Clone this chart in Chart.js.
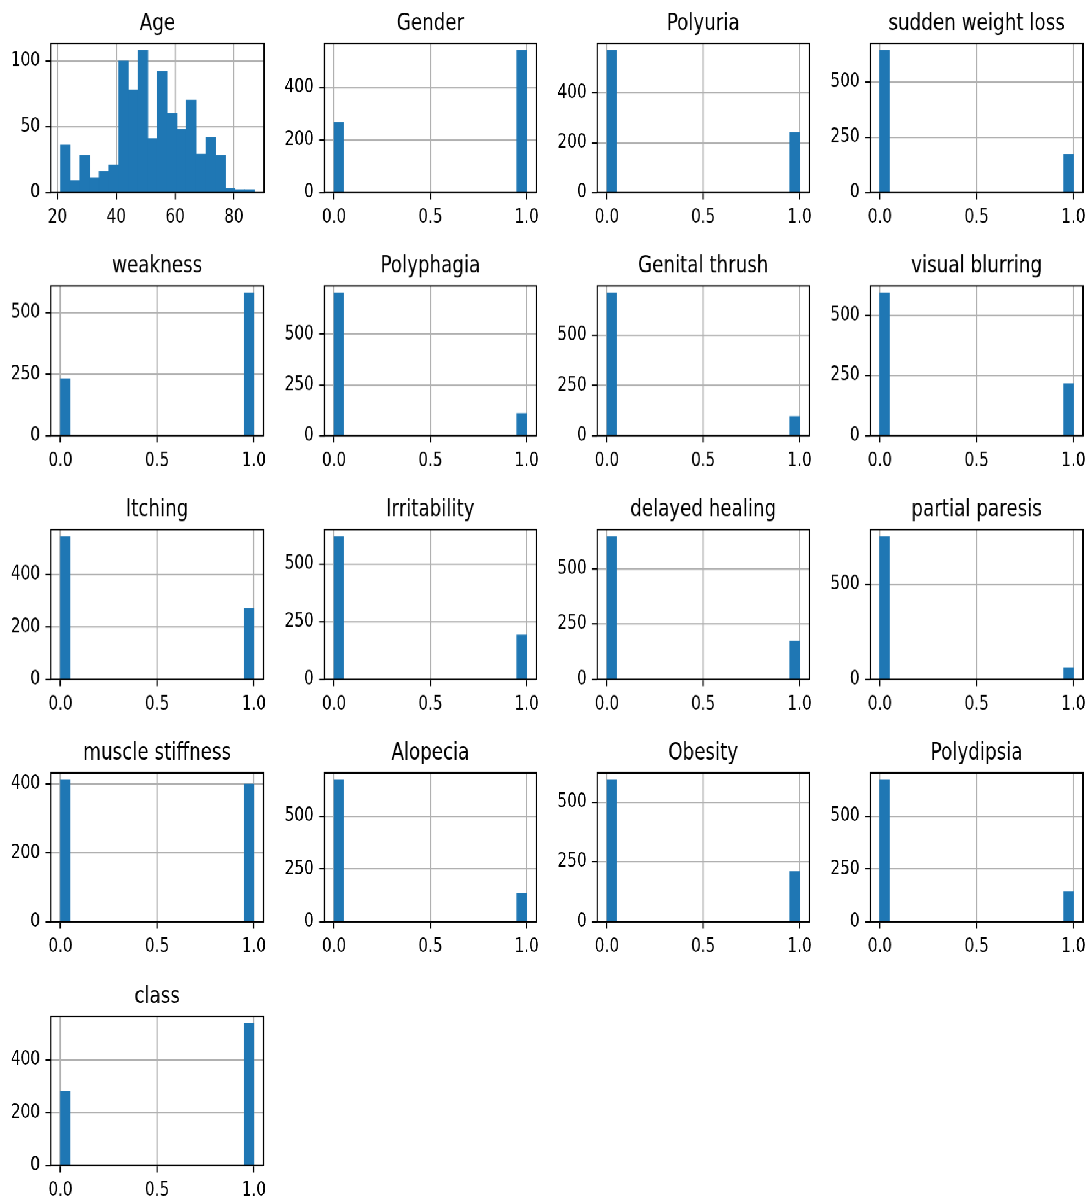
<!DOCTYPE html>
<html>
<head>
<meta charset="utf-8">
<script src="https://cdn.jsdelivr.net/npm/chart.js@4.4.1/dist/chart.umd.min.js"></script>
<style>
  html, body { margin: 0; padding: 0; background: #fff; }
  #fig { position: absolute; left: 0; top: 0; transform-origin: 0 0; }
  .panel { position: absolute; }
</style>
</head>
<body>
<div id="fig"></div>
<script>
// --- data ---
const ageBinRange = [21, 87];
const ageCounts = [36, 9, 28, 11, 16, 21, 100, 78, 108, 41, 92, 60, 48, 70, 29, 42, 28, 3, 2, 2];
const ageXTicks = [20, 40, 60, 80];
const ageYStep = 50;

const binaryFeatures = ['Gender', 'Polyuria', 'sudden weight loss', 'weakness', 'Polyphagia',
  'Genital thrush', 'visual blurring', 'Itching', 'Irritability', 'delayed healing',
  'partial paresis', 'muscle stiffness', 'Alopecia', 'Obesity', 'Polydipsia', 'class'];
const countsAtZero = [268, 570, 643, 231, 702, 711, 592, 544, 618, 645, 751, 412, 671, 592, 671, 279];
const countsAtOne  = [542, 240, 172, 580, 109, 96, 216, 270, 192, 173, 60, 399, 134, 210, 142, 537];
const binaryYSteps = [200, 200, 250, 250, 250, 250, 250, 200, 250, 250, 500, 200, 250, 250, 250, 200];
const binaryXTicks = [0, 0.5, 1];
const binaryBinRange = [0, 1];
const nBins = 20;

// --- figure geometry (the reference is a stretched matplotlib figure) ---
const SX = 1.1, SY = 1.4;
const FIG_W = 1090, FIG_H = 1203;
const frameLeft0 = 51, framePitchX = 273, frameW = 213;
const frameTop0 = 43, framePitchY = 243.25, frameH = 149;
const PAD_L = 46, PAD_T = 30, PAD_R = 7, PAD_B = 31;

Chart.defaults.font.family = '"DejaVu Sans", sans-serif';
Chart.defaults.font.size = 13.9;
Chart.defaults.color = '#000';

const fig = document.getElementById('fig');
fig.style.width = (FIG_W / SX) + 'px';
fig.style.height = (FIG_H / SY) + 'px';
fig.style.transform = `scale(${SX}, ${SY})`;

// full black frame + title, drawn over everything
const framePlugin = {
  id: 'frame',
  afterDraw(chart, args, opts) {
    const { ctx, chartArea: a } = chart;
    ctx.save();
    ctx.lineWidth = 1.1;
    ctx.strokeStyle = '#000';
    ctx.strokeRect(a.left, a.top, a.right - a.left, a.bottom - a.top);
    ctx.fillStyle = '#000';
    ctx.font = '16.67px "DejaVu Sans", sans-serif';
    ctx.textAlign = 'center';
    ctx.textBaseline = 'alphabetic';
    ctx.fillText(opts.title, (a.left + a.right) / 2, a.top - 9.5);
    ctx.restore();
  }
};

function makeHist(index, title, counts, range, xTicks, yStep, fmt) {
  const row = Math.floor(index / 4), col = index % 4;
  const fw = frameW / SX, fh = frameH / SY;
  const fl = (frameLeft0 + col * framePitchX) / SX;
  const ft = (frameTop0 + row * framePitchY) / SY;

  const div = document.createElement('div');
  div.className = 'panel';
  div.style.left = (fl - PAD_L) + 'px';
  div.style.top = (ft - PAD_T) + 'px';
  div.style.width = (PAD_L + fw + PAD_R) + 'px';
  div.style.height = (PAD_T + fh + PAD_B) + 'px';
  const canvas = document.createElement('canvas');
  div.appendChild(canvas);
  fig.appendChild(div);

  const [lo, hi] = range;
  const w = (hi - lo) / counts.length;
  const data = counts.map((c, i) => ({ x: lo + w * (i + 0.5), y: c }));
  const margin = (hi - lo) * 0.05;
  const yMax = Math.max(...counts) * 1.05;
  const yTicks = [];
  for (let v = 0; v <= yMax; v += yStep) yTicks.push(v);

  const grid = { color: '#b0b0b0', lineWidth: 1.1, tickColor: '#000', tickWidth: 1.1, tickLength: 4.86, offset: false };

  new Chart(canvas, {
    type: 'bar',
    data: {
      datasets: [{
        data,
        backgroundColor: '#1f77b4',
        borderWidth: 0,
        barPercentage: 1,
        categoryPercentage: 1,
      }]
    },
    options: {
      responsive: true,
      maintainAspectRatio: false,
      animation: false,
      devicePixelRatio: 2,
      layout: { padding: { left: 0, top: PAD_T, right: PAD_R, bottom: 0 } },
      plugins: {
        legend: { display: false },
        tooltip: { enabled: false },
        frame: { title }
      },
      scales: {
        x: {
          type: 'linear',
          offset: false,
          min: lo - margin,
          max: hi + margin,
          z: 1,
          grid,
          border: { display: false },
          afterBuildTicks: s => { s.ticks = xTicks.map(v => ({ value: v })); },
          afterFit: s => { s.height = PAD_B; },
          ticks: { padding: 5, maxRotation: 0, autoSkip: false, callback: v => fmt(v) }
        },
        y: {
          min: 0,
          max: yMax,
          z: 1,
          grid,
          border: { display: false },
          afterBuildTicks: s => { s.ticks = yTicks.map(v => ({ value: v })); },
          afterFit: s => { s.width = PAD_L; },
          ticks: { padding: 4.86, autoSkip: false, callback: v => String(v) }
        }
      }
    },
    plugins: [framePlugin]
  });
}

makeHist(0, 'Age', ageCounts, ageBinRange, ageXTicks, ageYStep, v => String(v));

binaryFeatures.forEach((name, i) => {
  const counts = new Array(nBins).fill(0);
  counts[0] = countsAtZero[i];
  counts[nBins - 1] = countsAtOne[i];
  makeHist(i + 1, name, counts, binaryBinRange, binaryXTicks, binaryYSteps[i], v => Number(v).toFixed(1));
});
</script>
</body>
</html>
